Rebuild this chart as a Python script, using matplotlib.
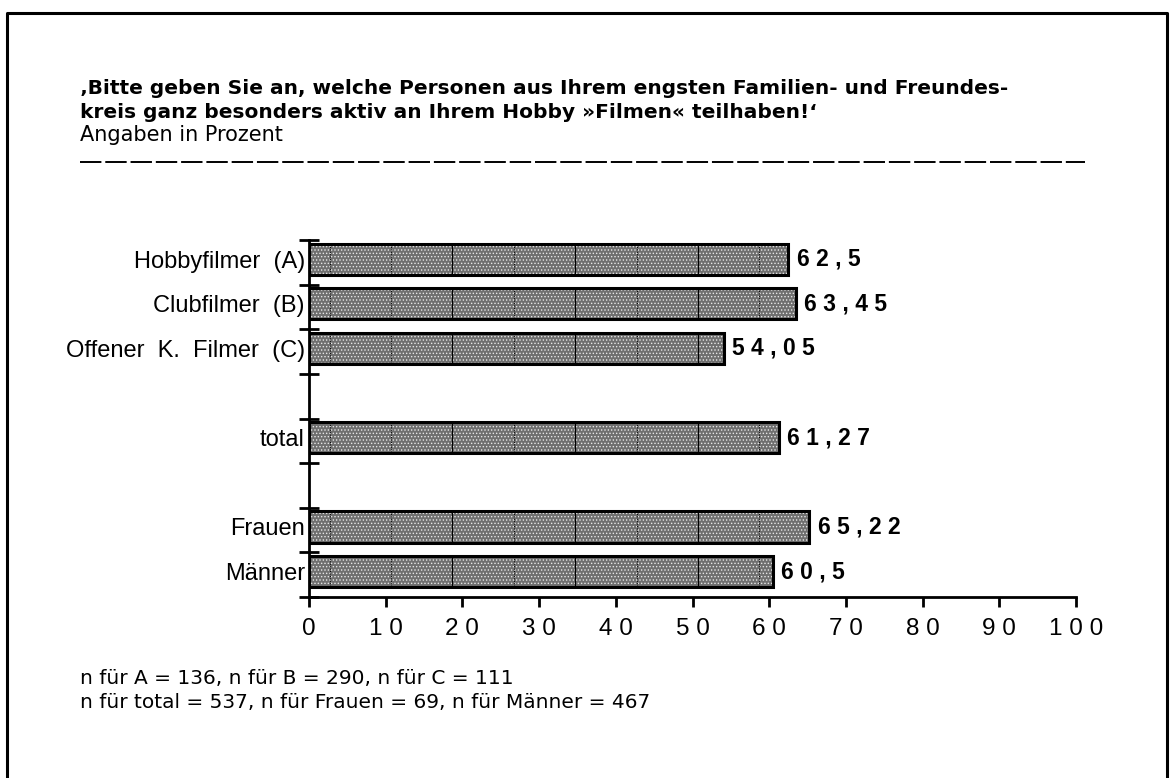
import numpy as np
import matplotlib.pyplot as plt
from matplotlib.lines import Line2D

# data (empty names are spacer rows)
categories = ["Hobbyfilmer  (A)", "Clubfilmer  (B)", "Offener  K.  Filmer  (C)", "",
              "total", "", "Frauen", "Männer"]
values = [62.5, 63.45, 54.05, None, 61.27, None, 65.22, 60.5]
value_labels = ["6 2 , 5", "6 3 , 4 5", "5 4 , 0 5", "", "6 1 , 2 7", "", "6 5 , 2 2", "6 0 , 5"]
xticks = [0, 10, 20, 30, 40, 50, 60, 70, 80, 90, 100]
xtick_labels = [" ".join(str(t)) for t in xticks]

title_lines = ["\u201aBitte geben Sie an, welche Personen aus Ihrem engsten Familien- und Freundes-",
               "kreis ganz besonders aktiv an Ihrem Hobby \u00bbFilmen\u00ab teilhaben!\u2018"]
subtitle = "Angaben in Prozent"
footer = ["n für A = 136, n für B = 290, n für C = 111",
          "n für total = 537, n für Frauen = 69, n für Männer = 467"]

plt.rcParams['font.family'] = ['Liberation Sans', 'DejaVu Sans']
plt.rcParams['hatch.linewidth'] = 0.6
head_font = ['DejaVu Sans']

W, H = 1171, 778
fig = plt.figure(figsize=(W / 100, H / 100), dpi=100)

# outer frame (open at the bottom)
fig.add_artist(Line2D([7 / W, 7 / W, 1167 / W, 1167 / W], [0, 1 - 13 / H, 1 - 13 / H, 0],
                      color='black', lw=2.2, transform=fig.transFigure))

ax = fig.add_axes([309 / W, 1 - 597 / H, (1076 - 309) / W, (597 - 240) / H])
ypos = np.arange(len(categories))
bar_h = 0.7
for y, v, lab in zip(ypos, values, value_labels):
    if v is None:
        continue
    yc = y - 0.07
    ax.barh(yc, v, height=bar_h, color='#6f6f6f', hatch='.....', edgecolor='#e8e8e8',
            linewidth=0, zorder=2)
    ax.barh(yc, v, height=bar_h, fill=False, edgecolor='black', linewidth=2.2, zorder=4)
    # pattern lines inside the bars
    for k, gx in enumerate(np.arange(2.7, v, 8)):
        solid = (k % 2 == 0) and k >= 2
        ax.plot([gx, gx], [yc - bar_h / 2, yc + bar_h / 2], color='black',
                lw=0.8 if solid else 0.7, ls='-' if solid else (0, (1, 1.5)), zorder=3)
    ax.text(v + 1.1, yc, lab, va='center', ha='left', fontsize=16.5, fontweight='bold')

ax.set_xlim(0, 100)
ax.set_ylim(len(categories) - 0.5, -0.5)
for s in ['top', 'right']:
    ax.spines[s].set_visible(False)
ax.spines['left'].set_linewidth(2)
ax.spines['bottom'].set_linewidth(2)

ax.set_xticks(xticks)
ax.set_xticklabels(xtick_labels, fontsize=17.5)
ax.tick_params(axis='x', direction='out', length=7, width=2, pad=8)

ax.set_yticks(np.arange(-0.5, len(categories), 1.0))
ax.set_yticklabels([])
ax.tick_params(axis='y', which='major', direction='inout', length=14, width=2)
ax.set_yticks(ypos - 0.07, minor=True)
ax.set_yticklabels(categories, minor=True, fontsize=17)
ax.tick_params(axis='y', which='minor', length=0, pad=3)

# header and footer text
fig.text(80 / W, 1 - 89 / H, title_lines[0], fontsize=14.5, fontweight='bold',
         family=head_font, va='center')
fig.text(80 / W, 1 - 112 / H, title_lines[1], fontsize=14.5, fontweight='bold',
         family=head_font, va='center')
fig.text(80 / W, 1 - 135 / H, subtitle, fontsize=15, family=head_font, va='center')
fig.add_artist(Line2D([80 / W, 1085 / W], [1 - 162 / H, 1 - 162 / H], color='black', lw=1.4,
                      dashes=(11, 2), transform=fig.transFigure))
fig.text(80 / W, 1 - 679 / H, footer[0], fontsize=14.5, family=head_font, va='center')
fig.text(80 / W, 1 - 703 / H, footer[1], fontsize=14.5, family=head_font, va='center')

fig.savefig('out.png', dpi=100)
